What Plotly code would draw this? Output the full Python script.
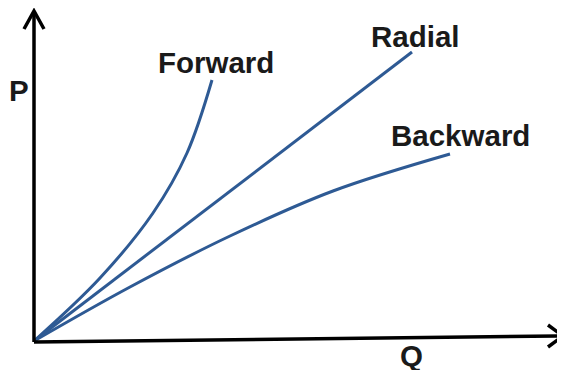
import plotly.graph_objects as go

# ---- data (arbitrary units: Q flow, P pressure) ----
forward_q = [0, 1.32, 2.38, 3.06, 3.56]
forward_p = [0, 1.26, 2.56, 3.76, 5.22]

radial_q = [0, 7.56]
radial_p = [0, 5.78]

backward_q = [0, 1.92, 3.92, 5.98, 8.32]
backward_p = [0, 1.08, 2.10, 3.00, 3.74]

labels = ["Forward", "Radial", "Backward"]

# ---- layout helpers (page pixel -> data; page has an 8px body margin) ----
W, H = 565, 370
PAD = 8
OX, OY = 34, 341      # origin in page pixels
S = 50.0              # pixels per data unit


def dx(px):
    return (px - OX) / S


def dy(py):
    return (OY - py) / S


LINE = "#2E5A94"
INK = "#1a1a1a"

fig = go.Figure()
for q, p in [(forward_q, forward_p), (radial_q, radial_p), (backward_q, backward_p)]:
    fig.add_trace(go.Scatter(x=q, y=p, mode="lines",
                             line=dict(color=LINE, width=3, shape="spline", smoothing=1.0),
                             hoverinfo="skip", showlegend=False))

# axes with open chevron arrowheads
ax_w = 3.5
shapes = [
    dict(type="line", x0=dx(OX), y0=dy(OY + 1), x1=dx(562), y1=dy(336),
         line=dict(color="black", width=ax_w)),
    dict(type="line", x0=dx(OX), y0=dy(OY + 1), x1=dx(OX), y1=dy(12),
         line=dict(color="black", width=ax_w)),
    dict(type="path",
         path=f"M {dx(548)} {dy(325)} L {dx(563)} {dy(336)} L {dx(548)} {dy(347)}",
         line=dict(color="black", width=ax_w)),
    dict(type="path",
         path=f"M {dx(24)} {dy(29)} L {dx(OX)} {dy(11)} L {dx(44)} {dy(29)}",
         line=dict(color="black", width=ax_w)),
]

font = dict(family="Liberation Sans, Arial, sans-serif", size=29.5, color=INK)
ann = []
label_pos = [(216, 62), (415, 36), (460, 135)]
for t, (x, y) in zip(labels, label_pos):
    ann.append(dict(x=dx(x), y=dy(y), text=f"<b>{t}</b>", showarrow=False,
                    xanchor="center", yanchor="middle", font=font))
ann.append(dict(x=dx(19), y=dy(90), text="<b>P</b>", showarrow=False,
                xanchor="center", yanchor="middle", font=font))
ann.append(dict(x=dx(411), y=dy(355), text="<b>Q</b>", showarrow=False,
                xanchor="center", yanchor="middle", font=font))

fig.update_layout(
    width=W - PAD, height=H - PAD,
    margin=dict(l=0, r=0, t=0, b=0),
    paper_bgcolor="white", plot_bgcolor="white",
    xaxis=dict(range=[dx(PAD), dx(W)], visible=False, fixedrange=True),
    yaxis=dict(range=[dy(H), dy(PAD)], visible=False, fixedrange=True),
    shapes=shapes,
    annotations=ann,
)

fig.write_html("out.html", config={"displayModeBar": False})
